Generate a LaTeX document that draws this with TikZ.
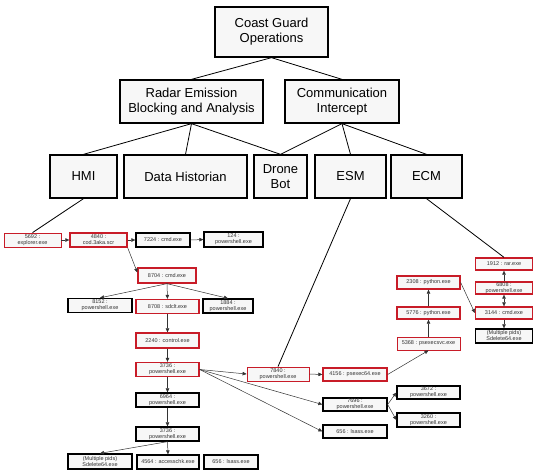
\documentclass[tikz,border=0pt]{standalone}
\usepackage{fontspec}
\setmainfont{Liberation Sans}
\usetikzlibrary{arrows.meta}
\definecolor{boxred}{RGB}{200,28,40}
\definecolor{boxfill}{RGB}{247,247,247}
\tikzset{
  big/.style={draw=black, line width=1.3pt, fill=boxfill, align=center, inner sep=0pt,
    font=\fontsize{13}{15}\selectfont},
  small/.style={draw=black, line width=1.3pt, fill=boxfill, align=center, inner sep=0pt,
    text=black!80, font=\fontsize{5.5}{6}\selectfont},
  redbox/.style={small, draw=boxred},
  thinred/.style={small, draw=boxred, line width=0.8pt},
  tree/.style={draw=black, line width=0.8pt},
  arr/.style={draw=black!80, line width=0.5pt, -{Triangle[length=4pt,width=3.5pt]}},
  barr/.style={draw=black!80, line width=0.5pt, {Triangle[length=4pt,width=3.5pt]}-{Triangle[length=4pt,width=3.5pt]}},
}
\newcommand{\bx}[5]{\node[#1, minimum width=#3pt, minimum height=#4pt] (#2) at #5}
\begin{document}
\begin{tikzpicture}[x=1pt,y=-1pt]
\useasboundingbox (0,0) rectangle (533,472);
% big boxes
\bx{big}{coast}{113}{50}{(271.5,32)} {Coast Guard\\Operations};
\bx{big}{radar}{143}{43}{(191.5,101.5)} {Radar Emission\\Blocking and Analysis};
\bx{big}{comm}{114}{43}{(342,101.5)} {Communication\\Intercept};
\bx{big}{hmi}{67}{43}{(83.5,176.5)} {HMI};
\bx{big}{dh}{123}{43}{(185.5,176.5)} {Data Historian};
\bx{big}{drone}{53}{43}{(280.5,176.5)} {Drone\\Bot};
\bx{big}{esm}{71}{43}{(350.5,176.5)} {ESM};
\bx{big}{ecm}{71}{43}{(426.5,176.5)} {ECM};
% small boxes
\bx{thinred}{p5692}{57}{14}{(32.5,240)} {5692 :\\explorer.exe};
\bx{redbox}{p4840}{57}{14}{(98.5,240)} {4840 :\\cod.3aka.scr};
\bx{small}{p7224}{54}{14}{(163,240)} {7224 : cmd.exe};
\bx{small}{p124}{59}{15}{(233.5,239.5)} {124 :\\powershell.exe};
\bx{redbox}{p8704}{58}{15}{(167,275.5)} {8704 : cmd.exe};
\bx{small}{p8152}{64}{14}{(100,305.5)} {8152 :\\powershell.exe};
\bx{redbox}{p8708}{63}{14}{(167.5,306.5)} {8708 : sdclt.exe};
\bx{small}{p1884}{50}{14}{(228,306)} {1884 :\\powershell.exe};
\bx{redbox}{p2240}{63}{15}{(167.5,340.5)} {2240 : control.exe};
\bx{redbox}{p3736}{63}{14}{(167.5,369.5)} {3736 :\\powershell.exe};
\bx{small}{p6964}{63}{14}{(167.5,400)} {6964 :\\powershell.exe};
\bx{small}{p3736b}{63}{14}{(167.5,434)} {3736 :\\powershell.exe};
\bx{small}{pmulti}{64}{15}{(100,461.5)} {(Multiple pids)\\Sdelete64.exe};
\bx{small}{p4564}{62}{14}{(168,462)} {4564 : accesschk.exe};
\bx{small}{p656}{54}{14}{(231,462)} {656 : lsass.exe};
\bx{thinred}{p7840}{62}{14}{(278,374)} {7840 :\\powershell.exe};
\bx{redbox}{p4156}{64}{13}{(355,374.5)} {4156 : psexec64.exe};
\bx{small}{p7696}{64}{13}{(355,404.5)} {7696 :\\powershell.exe};
\bx{small}{p656b}{64}{13}{(355,431.5)} {656 : lsass.exe};
\bx{small}{p3672}{63}{13}{(428.5,392.5)} {3672 :\\powershell.exe};
\bx{small}{p3260}{63}{14}{(428.5,420)} {3260 :\\powershell.exe};
\bx{thinred}{p5368}{63}{13}{(428.5,343.5)} {5368 : psexecsvc.exe};
\bx{redbox}{p5776}{63}{12}{(428.5,313)} {5776 : python.exe};
\bx{redbox}{p2308}{63}{13}{(428.5,282.5)} {2308 : python.exe};
\bx{redbox}{p1912}{57}{12}{(504,264)} {1912 : rar.exe};
\bx{redbox}{p6808}{57}{12}{(504,288)} {6808 :\\powershell.exe};
\bx{redbox}{p3144}{57}{12}{(504,313)} {3144 : cmd.exe};
\bx{small}{pmulti2}{57}{14}{(504,336)} {(Multiple pids)\\Sdelete64.exe};
% tree lines
\draw[tree] (coast.south) -- (radar.north);
\draw[tree] (coast.south) -- (comm.north);
\draw[tree] (radar.south) -- (hmi.north);
\draw[tree] (radar.south) -- (dh.north);
\draw[tree] (radar.south) -- (drone.north);
\draw[tree] (comm.south) -- (drone.north);
\draw[tree] (comm.south) -- (esm.north);
\draw[tree] (comm.south) -- (ecm.north);
\draw[tree] (hmi.south) -- (p5692.north);
\draw[tree] (esm.south) -- (p7840.north);
\draw[tree] (ecm.south) -- (p1912.north);
% arrows
\draw[arr] (p5692.east) -- (p4840.west);
\draw[arr] (p4840.east) -- (p7224.west);
\draw[arr] (p7224.east) -- (p124.west);
\draw[arr] (p4840.south east) -- ([yshift=3pt]p8704.west);
\draw[arr] (p8704.south) -- (p8152.north);
\draw[arr] (p8704.south) -- (p8708.north);
\draw[arr] (p8704.south) -- (p1884.north);
\draw[arr] (p8708.south) -- (p2240.north);
\draw[arr] (p2240.south) -- (p3736.north);
\draw[arr] (p3736.south) -- (p6964.north);
\draw[arr] (p6964.south) -- (p3736b.north);
\draw[arr] (p3736b.south) -- (pmulti.north);
\draw[arr] (p3736b.south) -- (p4564.north);
\draw[arr] (p3736.east) -- (p7840.west);
\draw[arr] (p3736.east) -- (p7696.west);
\draw[arr] (p3736.east) -- (p656b.west);
\draw[arr] (p7840.east) -- (p4156.west);
\draw[arr] (p4156.east) -- (p5368.south);
\draw[arr] (p5368.north) -- (p5776.south);
\draw[arr] (p5776.north) -- (p2308.south);
\draw[arr] (p2308.east) -- (p3144.west);
\draw[arr] (p7696.east) -- (p3672.west);
\draw[arr] (p7696.east) -- (p3260.west);
\draw[arr] (p6808.north) -- (p1912.south);
\draw[barr] (p6808.south) -- (p3144.north);
\draw[arr] (p3144.south) -- (pmulti2.north);
\end{tikzpicture}
\end{document}
